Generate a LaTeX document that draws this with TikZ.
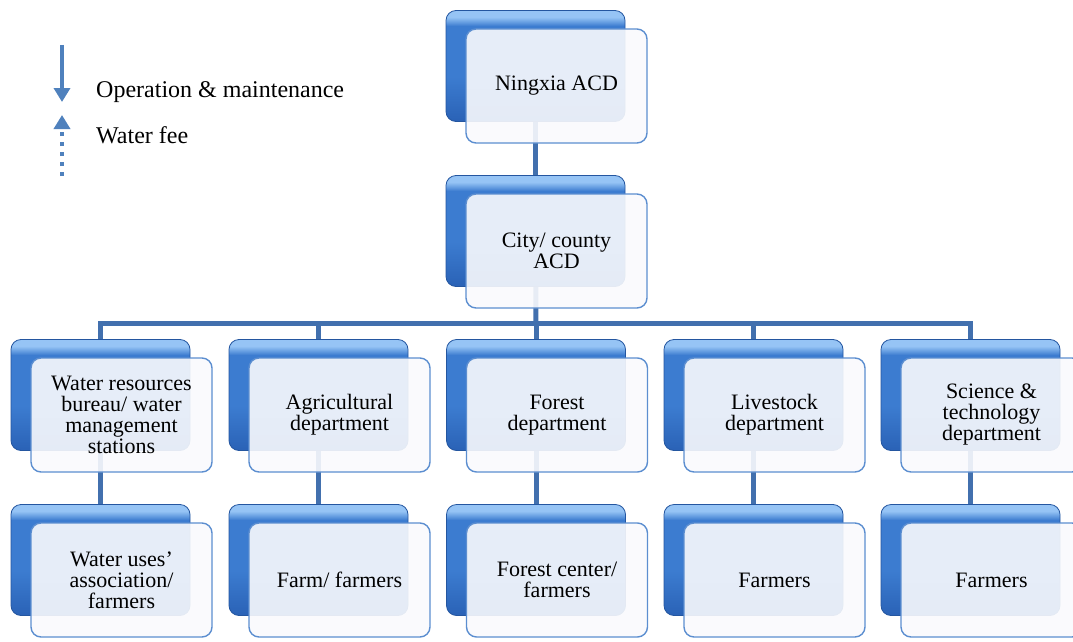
\documentclass[tikz,border=0pt]{standalone}
\usepackage{fontspec}
\setmainfont{Liberation Serif}
\usetikzlibrary{arrows.meta, backgrounds}

\definecolor{barblue}{RGB}{66,112,174}
\definecolor{backtop}{RGB}{150,196,245}
\definecolor{backmid}{RGB}{60,124,208}
\definecolor{backbot}{RGB}{42,98,182}
\definecolor{backline}{RGB}{36,86,160}
\definecolor{frontline}{RGB}{92,142,208}
\definecolor{frontfill}{RGB}{249,250,253}
\definecolor{legblue}{RGB}{79,129,189}
\pgfdeclareverticalshading{backshade}{100bp}{color(0bp)=(backbot); color(25bp)=(backbot); color(45bp)=(backmid); color(68bp)=(backmid); color(72bp)=(backtop); color(75bp)=(backtop); color(100bp)=(backtop)}

\begin{document}
\begin{tikzpicture}[
    x=1pt, y=-1pt,
    backbox/.style={rectangle, rounded corners=10pt, minimum width=179pt, minimum height=111pt, inner sep=0pt, draw=backline, line width=0.8pt, shading=backshade},
    frontbox/.style={rectangle, rounded corners=10pt, minimum width=181pt, minimum height=114pt, inner sep=2pt, align=center, draw=frontline, line width=1.4pt, fill=frontfill, fill opacity=0.9, text opacity=1, font=\fontsize{22}{21}\selectfont},
    conn/.style={draw=barblue, line width=5pt},
    legtext/.style={anchor=base west, font=\fontsize{24}{28}\selectfont, inner sep=0pt},
    legarr/.style={draw=legblue, line width=4.5pt, -{Triangle[length=14pt, width=16pt]}}
]
\useasboundingbox (0,0) rectangle (1073,642);

% Legend
\coordinate (opfrom) at (62,45);
\coordinate (opto) at (62,102);
\coordinate (feefrom) at (62,176);
\coordinate (feeto) at (62,115);
\draw[legarr] (opfrom) -- (opto);
\draw[legarr, dash pattern=on 4.5pt off 5.5pt] (feefrom) -- (feeto);
\node[legtext] (optext) at (96,97) {Operation \& maintenance};
\node[legtext] (feetext) at (96,143) {Water fee};

% Top levels
\node[backbox] (ningb) at (535.5,66) {};
\node[frontbox] (ning) at ([shift={(21,20)}]ningb.center) {Ningxia ACD};
\node[backbox] (cityb) at (535.5,231) {};
\node[frontbox] (city) at ([shift={(21,20)}]cityb.center) {City/ county\\ACD};

% Departments
\node[backbox] (wrb) at (100.5,395) {};
\node[frontbox] (wr) at ([shift={(21,20)}]wrb.center) {Water resources\\bureau/ water\\management\\stations};
\node[backbox] (agb) at (318.5,395) {};
\node[frontbox] (ag) at ([shift={(21,20)}]agb.center) {Agricultural\\department};
\node[backbox] (fob) at (536,395) {};
\node[frontbox] (fo) at ([shift={(21,20)}]fob.center) {Forest\\department};
\node[backbox] (lsb) at (753.5,395) {};
\node[frontbox] (ls) at ([shift={(21,20)}]lsb.center) {Livestock\\department};
\node[backbox] (stb) at (970.5,395) {};
\node[frontbox] (st) at ([shift={(21,20)}]stb.center) {Science \&\\technology\\department};

% Users
\node[backbox] (wub) at (100.5,560) {};
\node[frontbox] (wu) at ([shift={(21,20)}]wub.center) {Water uses'\\association/\\farmers};
\node[backbox] (ffb) at (318.5,560) {};
\node[frontbox] (ff) at ([shift={(21,20)}]ffb.center) {Farm/ farmers};
\node[backbox] (fcb) at (536,560) {};
\node[frontbox] (fc) at ([shift={(21,20)}]fcb.center) {Forest center/\\farmers};
\node[backbox] (lfb) at (753.5,560) {};
\node[frontbox] (lf) at ([shift={(21,20)}]lfb.center) {Farmers};
\node[backbox] (sfb) at (970.5,560) {};
\node[frontbox] (sf) at ([shift={(21,20)}]sfb.center) {Farmers};

% Connectors behind the boxes
\begin{scope}[on background layer]
\coordinate (bus) at (536,323);
\draw[conn] (ningb.center) -- (cityb.center);
\draw[conn] (cityb.center) -- (bus);
\draw[conn] (wrb.center) |- (bus) -| (stb.center);
\draw[conn] (bus) -| (agb.center);
\draw[conn] (bus) -- (fob.center);
\draw[conn] (bus) -| (lsb.center);
\draw[conn] (wrb.center) -- (wub.center);
\draw[conn] (agb.center) -- (ffb.center);
\draw[conn] (fob.center) -- (fcb.center);
\draw[conn] (lsb.center) -- (lfb.center);
\draw[conn] (stb.center) -- (sfb.center);
\end{scope}

\end{tikzpicture}
\end{document}
